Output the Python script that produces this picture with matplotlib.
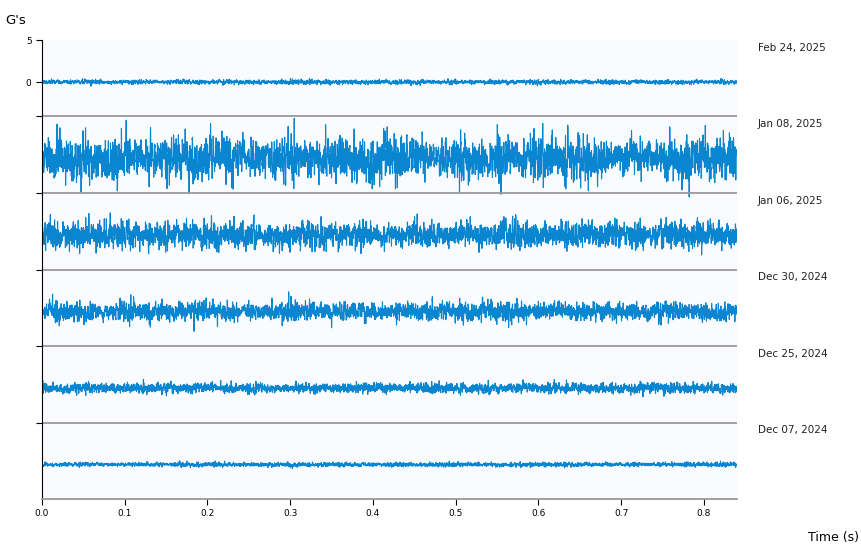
import numpy as np
import matplotlib
matplotlib.use("Agg")
import matplotlib.pyplot as plt

dates = ["Feb 24, 2025", "Jan 08, 2025", "Jan 06, 2025", "Dec 30, 2024", "Dec 25, 2024", "Dec 07, 2024"]
rms_g = [0.12, 1.15, 0.72, 0.5, 0.28, 0.12]   # estimated RMS amplitude per recording (G)
duration_s = 0.84
n_samples = 8000
xticks = [0.0, 0.1, 0.2, 0.3, 0.4, 0.5, 0.6, 0.7, 0.8]

row_top, row_bot = 5.0, -4.1
row_h = row_top - row_bot

fig = plt.figure(figsize=(8.61, 5.49), dpi=100)
ax = fig.add_axes([42/861, 1-499/549, (737-42)/861, (499-40)/549])
ax.set_facecolor("#f9fbfe")

t = np.linspace(0, duration_s, n_samples)
rng = np.random.default_rng(3)
for i, (d, r) in enumerate(zip(dates, rms_g)):
    off = -i * row_h
    w = rng.standard_normal(n_samples)
    k = np.array([0.3, 0.6, 1.0, 0.6, 0.3]); w = np.convolve(w, k/np.sqrt((k**2).sum()), mode="same")
    env = 1 + 0.12*np.convolve(rng.standard_normal(n_samples), np.ones(150)/np.sqrt(150), mode="same")
    ax.plot(t, off + r*w*env, color="#0a86d0", lw=0.8)
    if i > 0:
        ax.axhline(off + row_top, color="#999999", lw=1.3)
    ax.text(1.03, (off + row_top - 0.9 - (-5*row_h + row_bot)) / (6*row_h), d,
            transform=ax.transAxes, fontsize=7.5, va="center", ha="left", color="#222")

ax.set_xlim(0, duration_s)
ax.set_ylim(-5*row_h + row_bot, row_top)
ax.set_xticks(xticks)
ax.set_xticklabels([f"{x:.1f}" for x in xticks], fontsize=6.5)
yt = [5, 0] + [-i*row_h + row_top for i in range(1, 6)]
ax.set_yticks(yt)
ax.set_yticklabels(["5", "0"] + [""]*5, fontsize=6.5)
for s in ["top", "right"]:
    ax.spines[s].set_visible(False)
ax.spines["bottom"].set_color("#999999"); ax.spines["bottom"].set_linewidth(1.3)
ax.tick_params(length=4, width=0.8)
fig.text(5/861, 1-20/549, "G's", fontsize=9.5, va="center")
fig.text(808/861, 1-538/549, "Time (s)", fontsize=9, va="center")
fig.savefig("out.png")
